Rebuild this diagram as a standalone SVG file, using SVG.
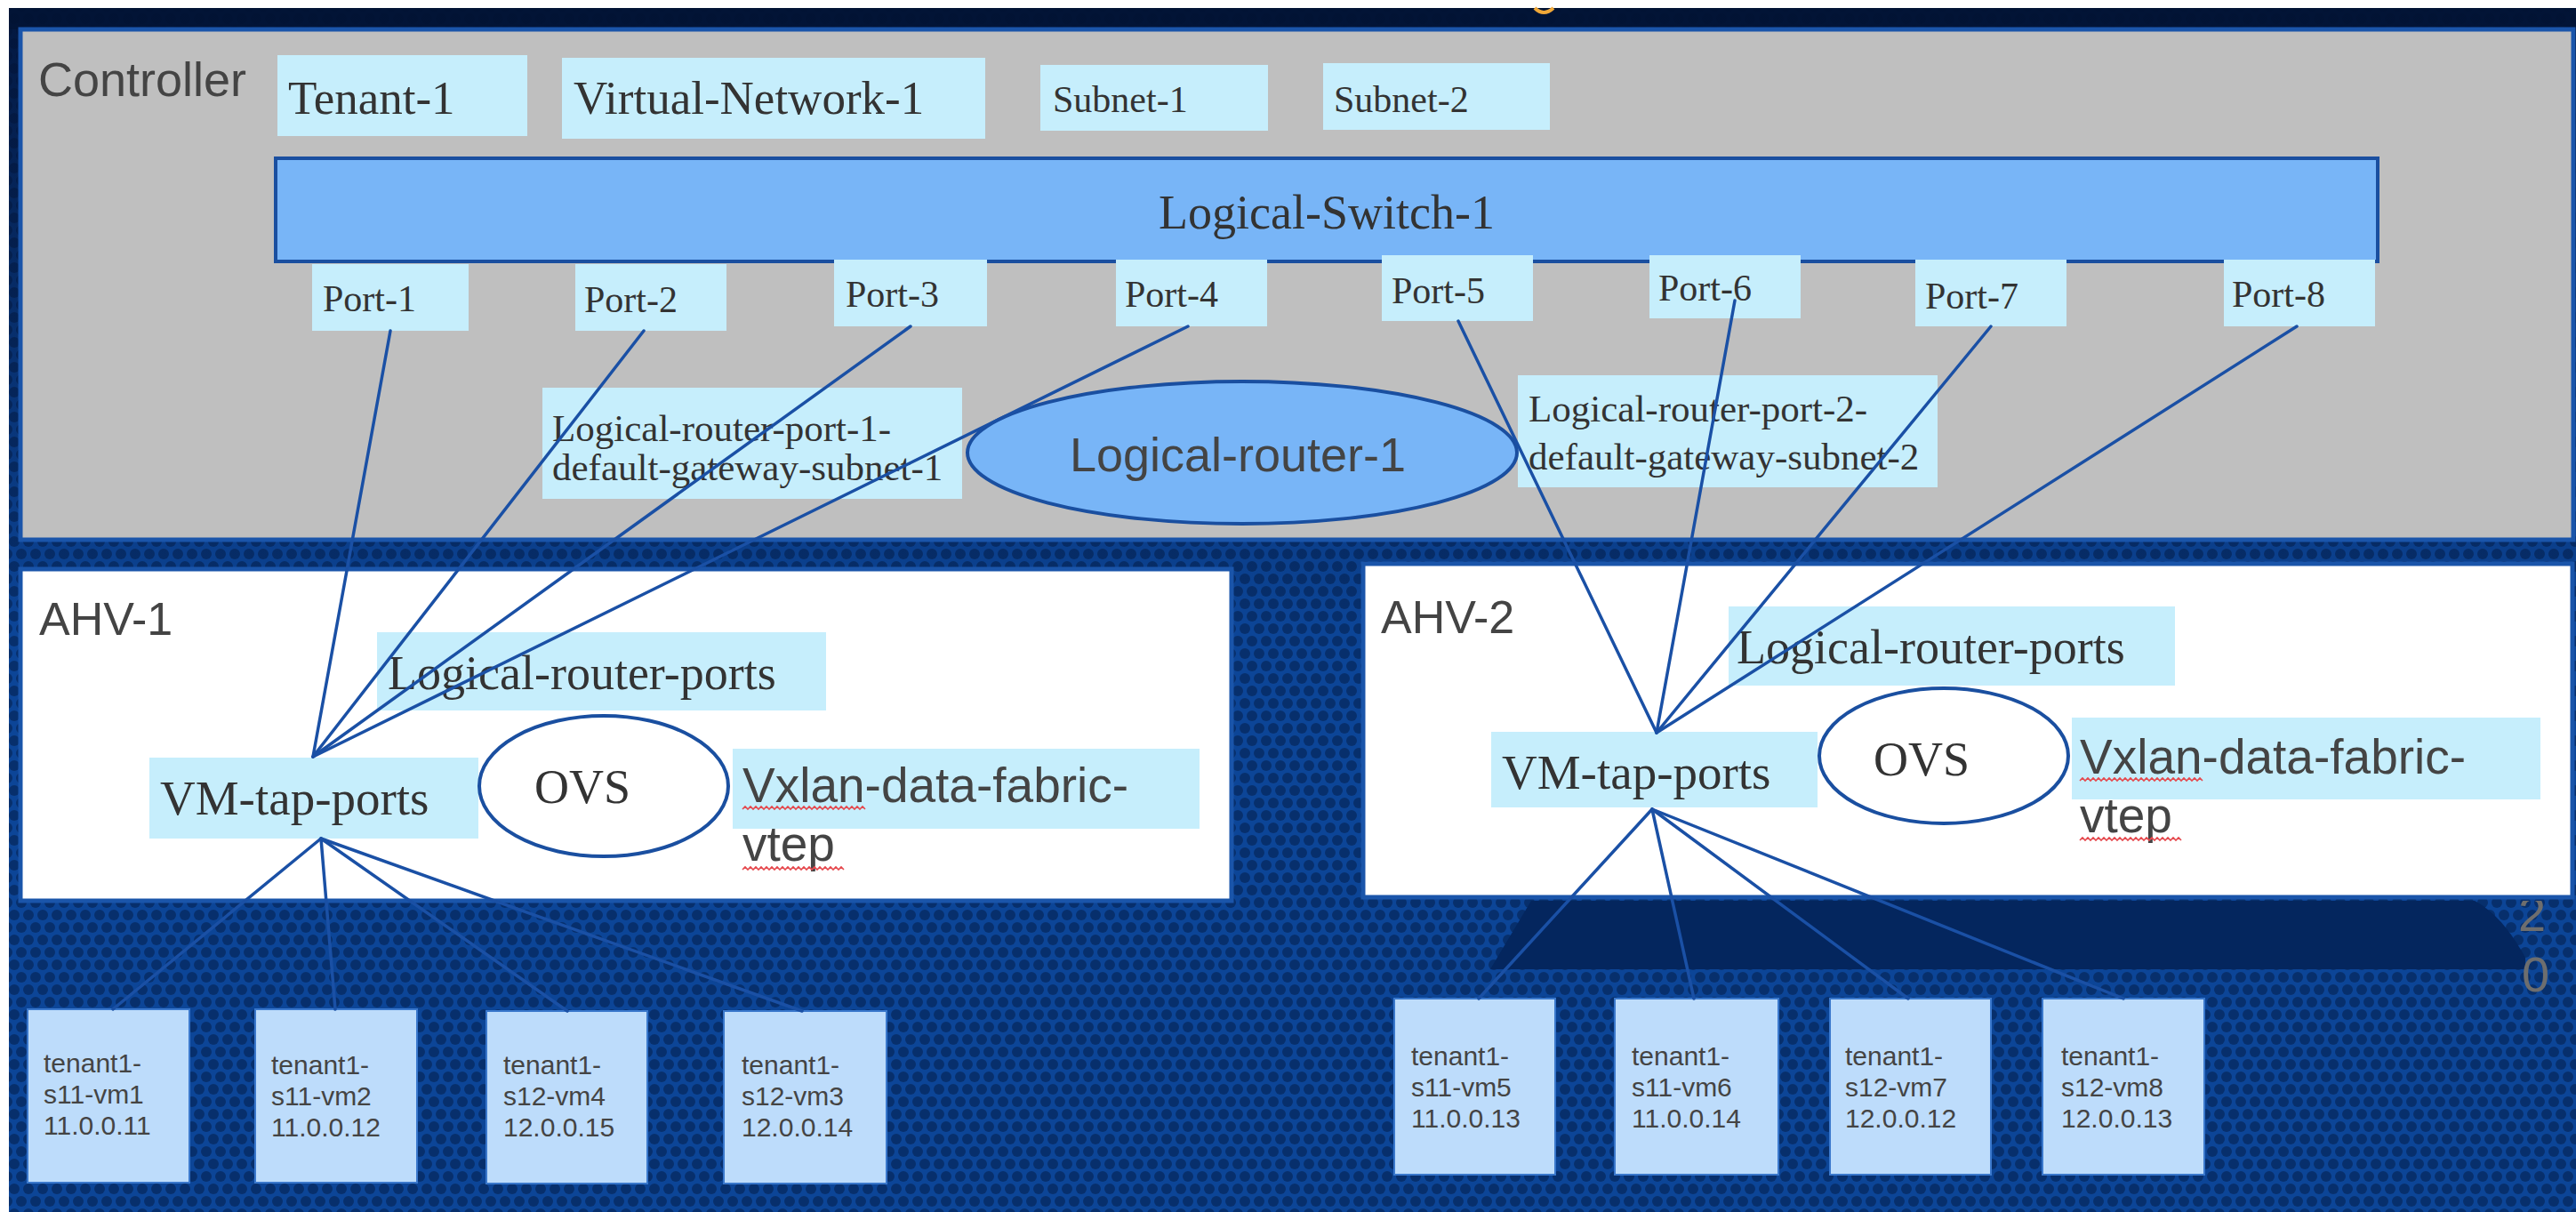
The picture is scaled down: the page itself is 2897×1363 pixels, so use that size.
<svg xmlns="http://www.w3.org/2000/svg" xmlns:xlink="http://www.w3.org/1999/xlink" width="2897" height="1363" viewBox="0 0 2897 1363">
<style>
.serif{font-family:"Liberation Serif","Times New Roman",serif;fill:#333}
.sans{font-family:"Liberation Sans",Arial,sans-serif;fill:#444}
.lbl{fill:#c6eefc}
.host{fill:#fff;stroke:#1a55aa;stroke-width:5}
.vm{fill:#bddcfb;stroke:#3a78cc;stroke-width:2}
.vmt{font-family:"Liberation Sans",Arial,sans-serif;font-size:30px;fill:#444}
.ell{stroke:#1a4fa0;stroke-width:4}
#connectors line{stroke:#1a50a5;stroke-width:3.5;stroke-linecap:round}
.sq{fill:none;stroke:#e5484d;stroke-width:1.6}
</style>
<defs>
<pattern id="hex" width="16" height="28" patternUnits="userSpaceOnUse">
<rect width="16" height="28" fill="#0c4597"/>
<circle cx="8" cy="7" r="6" fill="#072f6c"/>
<circle cx="0" cy="21" r="6" fill="#072f6c"/>
<circle cx="16" cy="21" r="6" fill="#072f6c"/>
</pattern>
<linearGradient id="shade" x1="0" y1="0" x2="0" y2="1">
<stop offset="0" stop-color="#021235" stop-opacity="0.9"/>
<stop offset="0.5" stop-color="#021235" stop-opacity="0.45"/>
<stop offset="1" stop-color="#021235" stop-opacity="0"/>
</linearGradient>
<path id="sqL" class="sq" d="M0 0l3-3 3 3 3-3 3 3 3-3 3 3 3-3 3 3 3-3 3 3 3-3 3 3 3-3 3 3 3-3 3 3 3-3 3 3 3-3 3 3 3-3 3 3 3-3 3 3 3-3 3 3 3-3 3 3 3-3 3 3 3-3 3 3 3-3 3 3 3-3 3 3 3-3 3 3 3-3 3 3 3-3 3 3 3-3 3 3 3-3 3 3"/>
<path id="sqS" class="sq" d="M0 0l3-3 3 3 3-3 3 3 3-3 3 3 3-3 3 3 3-3 3 3 3-3 3 3 3-3 3 3 3-3 3 3 3-3 3 3 3-3 3 3 3-3 3 3 3-3 3 3 3-3 3 3 3-3 3 3 3-3 3 3 3-3 3 3 3-3 3 3 3-3 3 3 3-3 3 3"/>
<clipPath id="clipz"><rect x="2800" y="1013" width="97" height="120"/></clipPath>
</defs>

<g id="background">
<rect width="2897" height="1363" fill="#fff"/>
<rect x="10" y="9" width="2887" height="1354" fill="url(#hex)"/>
<rect x="10" y="9" width="2887" height="700" fill="url(#shade)"/>
<rect x="10" y="9" width="2887" height="24" fill="#021230" opacity="0.6"/>
<path d="M1722 1013 L2783 1013 Q2815 1030 2840 1077 L2840 1090 L1676 1090 Z" fill="#04265e"/>
<path d="M1726 9 q10 10 21 0" fill="none" stroke="#f0a838" stroke-width="4"/>
<g clip-path="url(#clipz)">
<text x="2832" y="1047" class="sans" style="font-size:56px;fill:#6e6e6e">2</text>
</g>
<text x="2836" y="1115" class="sans" style="font-size:56px;fill:#6e6e6e">0</text>
</g>

<g id="controller">
<rect x="23" y="33" width="2871" height="574" fill="#bfbfbf" stroke="#1a55aa" stroke-width="5"/>
<text x="43" y="108" class="sans" style="font-size:54px">Controller</text>
</g>
<g id="tenant-1">
<rect class="lbl" x="312" y="62" width="281" height="91"/>
<text x="324" y="128" class="serif" style="font-size:53px">Tenant-1</text>
</g>
<g id="virtual-network-1">
<rect class="lbl" x="632" y="65" width="476" height="91"/>
<text x="645" y="128" class="serif" style="font-size:53px">Virtual-Network-1</text>
</g>
<g id="subnet-1">
<rect class="lbl" x="1170" y="73" width="256" height="74"/>
<text x="1184" y="126" class="serif" style="font-size:42px">Subnet-1</text>
</g>
<g id="subnet-2">
<rect class="lbl" x="1488" y="71" width="255" height="75"/>
<text x="1500" y="126" class="serif" style="font-size:42px">Subnet-2</text>
</g>
<g id="logical-switch-1">
<rect x="310" y="178" width="2364" height="116" fill="#78b5f7" stroke="#1a4fa0" stroke-width="4"/>
<text x="1492" y="257" class="serif" text-anchor="middle" style="font-size:54px">Logical-Switch-1</text>
</g>
<g id="port-1"><rect class="lbl" x="351" y="297" width="176" height="75"/><text x="363" y="350" class="serif" style="font-size:42px">Port-1</text></g>
<g id="port-2"><rect class="lbl" x="647" y="297" width="170" height="75"/><text x="657" y="351" class="serif" style="font-size:42px">Port-2</text></g>
<g id="port-3"><rect class="lbl" x="938" y="292" width="172" height="75"/><text x="951" y="345" class="serif" style="font-size:42px">Port-3</text></g>
<g id="port-4"><rect class="lbl" x="1255" y="292" width="170" height="75"/><text x="1265" y="345" class="serif" style="font-size:42px">Port-4</text></g>
<g id="port-5"><rect class="lbl" x="1554" y="287" width="170" height="74"/><text x="1565" y="341" class="serif" style="font-size:42px">Port-5</text></g>
<g id="port-6"><rect class="lbl" x="1855" y="287" width="170" height="71"/><text x="1865" y="338" class="serif" style="font-size:42px">Port-6</text></g>
<g id="port-7"><rect class="lbl" x="2154" y="292" width="170" height="75"/><text x="2165" y="347" class="serif" style="font-size:42px">Port-7</text></g>
<g id="port-8"><rect class="lbl" x="2501" y="292" width="170" height="75"/><text x="2510" y="345" class="serif" style="font-size:42px">Port-8</text></g>
<g id="lr-port-1">
<rect class="lbl" x="610" y="436" width="472" height="125"/>
<text class="serif" style="font-size:43px"><tspan x="621" y="496">Logical-router-port-1-</tspan><tspan x="621" y="540">default-gateway-subnet-1</tspan></text>
</g>
<g id="lr-port-2">
<rect class="lbl" x="1707" y="422" width="472" height="126"/>
<text class="serif" style="font-size:43px"><tspan x="1719" y="474">Logical-router-port-2-</tspan><tspan x="1719" y="528">default-gateway-subnet-2</tspan></text>
</g>
<g id="logical-router-1">
<ellipse class="ell" cx="1397" cy="509" rx="309" ry="80" fill="#78b5f7"/>
<text x="1392" y="530" class="sans" text-anchor="middle" style="font-size:54px">Logical-router-1</text>
</g>

<g id="ahv-1">
<rect class="host" x="23" y="640" width="1362" height="373"/>
<text x="44" y="714" class="sans" style="font-size:52px">AHV-1</text>
<rect class="lbl" x="424" y="711" width="505" height="88"/>
<text x="436" y="775" class="serif" style="font-size:54px">Logical-router-ports</text>
<rect class="lbl" x="168" y="852" width="370" height="91"/>
<text x="180" y="916" class="serif" style="font-size:55px">VM-tap-ports</text>
<ellipse class="ell" cx="679" cy="884" rx="140" ry="79" fill="#fff"/>
<text x="601" y="903" class="serif" style="font-size:54px">OVS</text>
<rect class="lbl" x="824" y="842" width="525" height="90"/>
<text class="sans" style="font-size:55px"><tspan x="835" y="902">Vxlan-data-fabric-</tspan><tspan x="835" y="968">vtep</tspan></text>
<use xlink:href="#sqL" x="835" y="910"/>
<use xlink:href="#sqS" x="835" y="978"/>
</g>

<g id="ahv-2">
<rect class="host" x="1533" y="634" width="1360" height="375"/>
<text x="1553" y="712" class="sans" style="font-size:52px">AHV-2</text>
<rect class="lbl" x="1944" y="682" width="502" height="89"/>
<text x="1953" y="746" class="serif" style="font-size:54px">Logical-router-ports</text>
<rect class="lbl" x="1677" y="823" width="367" height="85"/>
<text x="1689" y="887" class="serif" style="font-size:55px">VM-tap-ports</text>
<ellipse class="ell" cx="2186" cy="850" rx="140" ry="76" fill="#fff"/>
<text x="2107" y="872" class="serif" style="font-size:54px">OVS</text>
<rect class="lbl" x="2330" y="807" width="527" height="92"/>
<text class="sans" style="font-size:55px"><tspan x="2339" y="870">Vxlan-data-fabric-</tspan><tspan x="2339" y="936">vtep</tspan></text>
<use xlink:href="#sqL" x="2339" y="878"/>
<use xlink:href="#sqS" x="2339" y="945"/>
</g>

<g id="vm1"><rect class="vm" x="31" y="1135" width="182" height="195"/><text class="vmt"><tspan x="49" y="1206">tenant1-</tspan><tspan x="49" y="1241">s11-vm1</tspan><tspan x="49" y="1276">11.0.0.11</tspan></text></g>
<g id="vm2"><rect class="vm" x="287" y="1135" width="182" height="195"/><text class="vmt"><tspan x="305" y="1208">tenant1-</tspan><tspan x="305" y="1243">s11-vm2</tspan><tspan x="305" y="1278">11.0.0.12</tspan></text></g>
<g id="vm4"><rect class="vm" x="547" y="1137" width="181" height="194"/><text class="vmt"><tspan x="566" y="1208">tenant1-</tspan><tspan x="566" y="1243">s12-vm4</tspan><tspan x="566" y="1278">12.0.0.15</tspan></text></g>
<g id="vm3"><rect class="vm" x="814" y="1137" width="183" height="194"/><text class="vmt"><tspan x="834" y="1208">tenant1-</tspan><tspan x="834" y="1243">s12-vm3</tspan><tspan x="834" y="1278">12.0.0.14</tspan></text></g>
<g id="vm5"><rect class="vm" x="1568" y="1123" width="181" height="198"/><text class="vmt"><tspan x="1587" y="1198">tenant1-</tspan><tspan x="1587" y="1233">s11-vm5</tspan><tspan x="1587" y="1268">11.0.0.13</tspan></text></g>
<g id="vm6"><rect class="vm" x="1816" y="1123" width="184" height="198"/><text class="vmt"><tspan x="1835" y="1198">tenant1-</tspan><tspan x="1835" y="1233">s11-vm6</tspan><tspan x="1835" y="1268">11.0.0.14</tspan></text></g>
<g id="vm7"><rect class="vm" x="2058" y="1123" width="181" height="198"/><text class="vmt"><tspan x="2075" y="1198">tenant1-</tspan><tspan x="2075" y="1233">s12-vm7</tspan><tspan x="2075" y="1268">12.0.0.12</tspan></text></g>
<g id="vm8"><rect class="vm" x="2297" y="1123" width="182" height="198"/><text class="vmt"><tspan x="2318" y="1198">tenant1-</tspan><tspan x="2318" y="1233">s12-vm8</tspan><tspan x="2318" y="1268">12.0.0.13</tspan></text></g>

<g id="connectors">
<line x1="439" y1="372" x2="352" y2="851"/>
<line x1="724" y1="372" x2="352" y2="851"/>
<line x1="1024" y1="367" x2="352" y2="851"/>
<line x1="1336" y1="367" x2="352" y2="851"/>
<line x1="361" y1="943" x2="127" y2="1135"/>
<line x1="361" y1="943" x2="377" y2="1135"/>
<line x1="361" y1="943" x2="638" y2="1137"/>
<line x1="361" y1="943" x2="902" y2="1137"/>
<line x1="1640" y1="361" x2="1863" y2="824"/>
<line x1="1951" y1="338" x2="1863" y2="824"/>
<line x1="2239" y1="367" x2="1863" y2="824"/>
<line x1="2583" y1="367" x2="1863" y2="824"/>
<line x1="1858" y1="910" x2="1663" y2="1123"/>
<line x1="1858" y1="910" x2="1905" y2="1123"/>
<line x1="1858" y1="910" x2="2146" y2="1123"/>
<line x1="1858" y1="910" x2="2388" y2="1123"/>
</g>
</svg>
